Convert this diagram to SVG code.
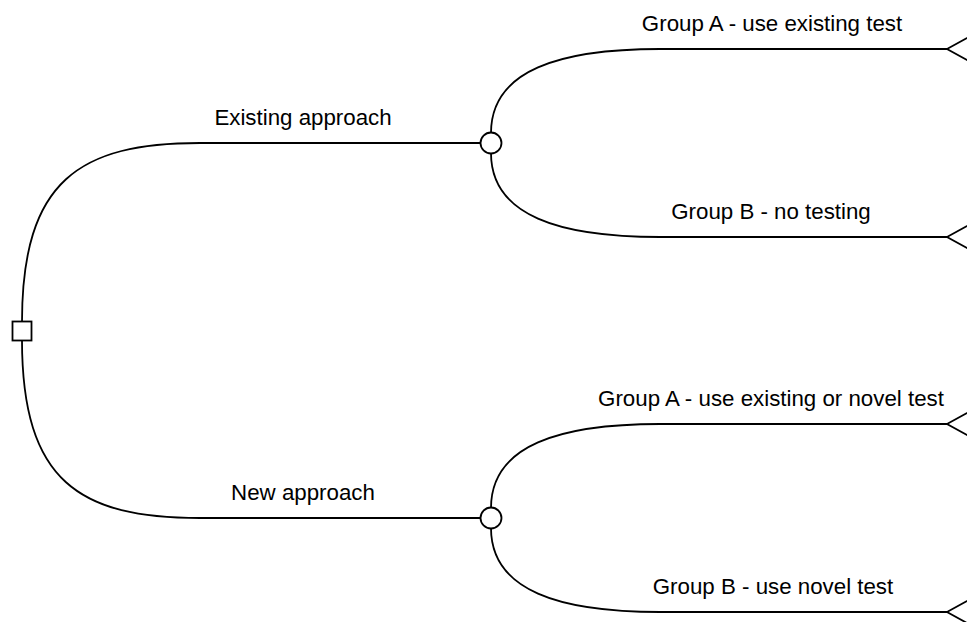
<svg xmlns="http://www.w3.org/2000/svg" width="967" height="622" viewBox="0 0 967 622">
  <style>
    .edge { fill: none; stroke: #000; stroke-width: 1.8; }
    .node { fill: #fff; stroke: #000; stroke-width: 1.8; }
    .lbl { font-family: "Liberation Sans", Arial, sans-serif; font-size: 22.3px; fill: #000; text-anchor: middle; }
  </style>
  <rect width="967" height="622" fill="#fff"/>

  <!-- branches -->
  <g id="connectors">
    <path class="edge" d="M22,322 C22,180 80,143 200,143 L480,143"/>
    <path class="edge" d="M22,340 C22,482 80,518 200,518 L480,518"/>
    <path class="edge" d="M491,133 C491,70 560,49 660,49 L947,49"/>
    <path class="edge" d="M491,153 C491,216 560,237 660,237 L947,237"/>
    <path class="edge" d="M491,508 C491,445 560,424 660,424 L947,424"/>
    <path class="edge" d="M491,528 C491,591 560,612 660,612 L947,612"/>
  </g>

  <!-- decision node -->
  <g id="decision">
    <rect class="node" x="12.5" y="321.5" width="19" height="19"/>
  </g>

  <!-- chance nodes -->
  <g id="chance-existing">
    <circle class="node" cx="491" cy="143" r="10.5"/>
  </g>
  <g id="chance-new">
    <circle class="node" cx="491" cy="518" r="10.5"/>
  </g>

  <!-- terminal nodes -->
  <g id="end-1"><polygon class="node" points="947,49 987,27 987,71"/></g>
  <g id="end-2"><polygon class="node" points="947,237 987,215 987,259"/></g>
  <g id="end-3"><polygon class="node" points="947,424 987,402 987,446"/></g>
  <g id="end-4"><polygon class="node" points="947,612 987,590 987,634"/></g>

  <!-- labels -->
  <g id="labels">
    <text class="lbl" x="303" y="125">Existing approach</text>
    <text class="lbl" x="303" y="500">New approach</text>
    <text class="lbl" x="772" y="31">Group A - use existing test</text>
    <text class="lbl" x="771" y="219">Group B - no testing</text>
    <text class="lbl" x="771" y="406">Group A - use existing or novel test</text>
    <text class="lbl" x="773" y="594">Group B - use novel test</text>
  </g>
</svg>
